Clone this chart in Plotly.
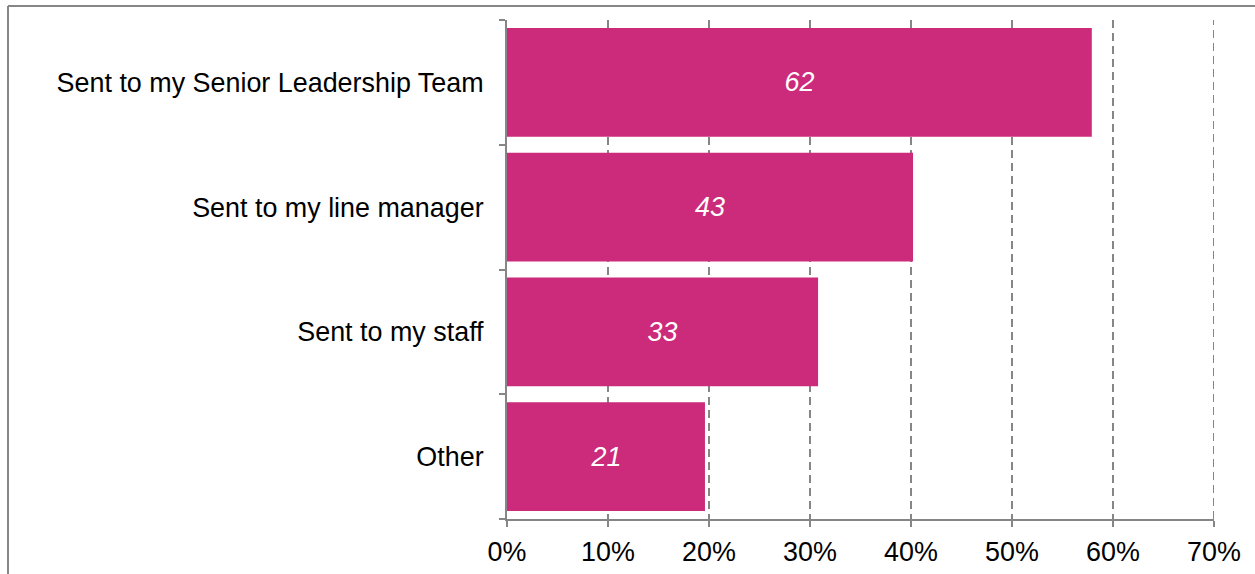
import plotly.graph_objects as go

categories = ["Sent to my Senior Leadership Team", "Sent to my line manager", "Sent to my staff", "Other"]
percent_values = [57.9, 40.2, 30.8, 19.6]
counts = [62, 43, 33, 21]
tick_values = [0, 10, 20, 30, 40, 50, 60, 70]
tick_labels = ["0%", "10%", "20%", "30%", "40%", "50%", "60%", "70%"]

FONT = "Liberation Sans, Arial, sans-serif"
BAR = "#CC2A7B"
GRAY = "#868686"
FS = 26.9

fig = go.Figure(go.Bar(
    x=percent_values,
    y=categories,
    orientation="h",
    marker=dict(color=BAR, line=dict(width=0)),
    customdata=counts,
    texttemplate="%{customdata}",
    textposition="inside",
    insidetextanchor="middle",
    textangle=0,
    textfont=dict(family=FONT, size=FS, color="white", style="italic"),
    hoverinfo="skip",
))

W, H = 1255, 574
L, R, T, B = 507, 1214, 20, 519

fig.update_layout(
    width=W, height=H,
    margin=dict(l=L, r=W - R, t=T, b=H - B, pad=0, autoexpand=False),
    paper_bgcolor="white",
    plot_bgcolor="white",
    bargap=0.13,
    showlegend=False,
    font=dict(family=FONT, size=FS, color="black"),
    xaxis=dict(
        range=[0, 70],
        tickvals=tick_values,
        ticktext=tick_labels,
        showgrid=True,
        gridcolor=GRAY,
        gridwidth=2,
        griddash="8px,5px",
        zeroline=False,
        showline=True,
        linecolor=GRAY,
        linewidth=2,
        ticks="outside",
        ticklen=6,
        tickwidth=2,
        tickcolor=GRAY,
        tickfont=dict(family=FONT, size=FS, color="black"),
        ticklabelstandoff=2,
        automargin=False,
        fixedrange=True,
    ),
    yaxis=dict(
        categoryorder="array",
        categoryarray=categories[::-1],
        showline=True,
        linecolor=GRAY,
        linewidth=2,
        ticks="outside",
        tickson="boundaries",
        ticklen=6,
        tickwidth=2,
        tickcolor=GRAY,
        showgrid=False,
        tickfont=dict(family=FONT, size=FS, color="black"),
        ticklabelstandoff=16,
        automargin=False,
        fixedrange=True,
    ),
)

# gridline at the right edge (70%)
fig.add_shape(
    type="line", xref="x", yref="paper",
    x0=tick_values[-1], x1=tick_values[-1], y0=0, y1=1,
    line=dict(color=GRAY, width=2, dash="8px,5px"), layer="below",
)

# chart border: only top and left edges are visible in the window
fig.add_shape(
    type="line", xref="paper", yref="paper",
    x0=(8 - L) / (R - L), x1=(1400 - L) / (R - L),
    y0=(B - 6) / (B - T), y1=(B - 6) / (B - T),
    line=dict(color=GRAY, width=2), layer="below",
)
fig.add_shape(
    type="line", xref="paper", yref="paper",
    x0=(8 - L) / (R - L), x1=(8 - L) / (R - L),
    y0=(B - 700) / (B - T), y1=(B - 6) / (B - T),
    line=dict(color=GRAY, width=2), layer="below",
)

fig.write_html(
    "out.html",
    config={"displayModeBar": False},
    post_script="document.body.style.margin='0';document.body.style.overflow='hidden';",
)
